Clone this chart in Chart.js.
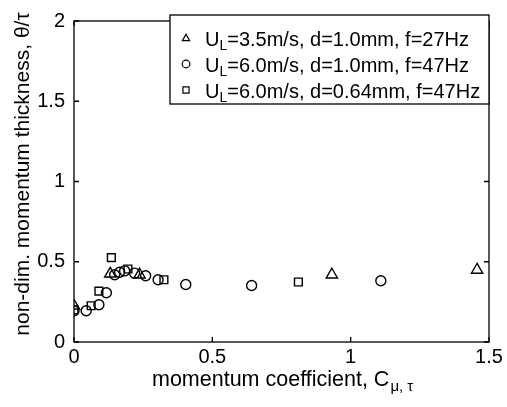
<!DOCTYPE html>
<html>
<head>
<meta charset="utf-8">
<script src="https://cdn.jsdelivr.net/npm/chart.js@4/dist/chart.umd.min.js"></script>
<style>
  html, body { margin: 0; padding: 0; background: #fff; }
  #wrap { width: 507px; height: 407px; }
</style>
</head>
<body>
<div id="wrap"><canvas id="chart" width="507" height="407"></canvas></div>
<script>
// values
const xTicks = [0, 0.5, 1, 1.5];
const yTicks = [0, 0.5, 1, 1.5, 2];

// U_L=3.5m/s, d=1.0mm, f=27Hz (triangles)
const triX = [0, 0.131, 0.237, 0.932, 1.457];
const triY = [0.226, 0.425, 0.419, 0.419, 0.449];

// U_L=6.0m/s, d=1.0mm, f=47Hz (circles)
const cirX = [0, 0.044, 0.09, 0.117, 0.147, 0.165, 0.183, 0.219, 0.259, 0.304, 0.404, 0.642, 1.109];
const cirY = [0.195, 0.195, 0.232, 0.307, 0.419, 0.435, 0.443, 0.429, 0.413, 0.388, 0.358, 0.352, 0.382];

// U_L=6.0m/s, d=0.64mm, f=47Hz (squares)
const sqX = [0, 0.062, 0.09, 0.135, 0.195, 0.325, 0.811];
const sqY = [0.2, 0.226, 0.317, 0.526, 0.455, 0.388, 0.374];

const legendRows = [
    { style: 'triangle', pre: 'U', sub: 'L', post: '=3.5m/s, d=1.0mm, f=27Hz' },
    { style: 'circle', pre: 'U', sub: 'L', post: '=6.0m/s, d=1.0mm, f=47Hz' },
    { style: 'rect', pre: 'U', sub: 'L', post: '=6.0m/s, d=0.64mm, f=47Hz' }
];

const FONT = '"Liberation Sans", Arial, Helvetica, sans-serif';

function toPoints(xs, ys) {
    return xs.map((x, i) => ({ x: x, y: ys[i] }));
}

function marker(ctx, style, x, y, r) {
    ctx.beginPath();
    if (style === 'circle') {
        ctx.arc(x, y, r, 0, Math.PI * 2);
    } else if (style === 'rect') {
        ctx.rect(x - r * 0.8, y - r * 0.8, r * 1.6, r * 1.6);
    } else {
        ctx.moveTo(x, y - r);
        ctx.lineTo(x + r * 0.95, y + r * 0.7);
        ctx.lineTo(x - r * 0.95, y + r * 0.7);
        ctx.closePath();
    }
    ctx.stroke();
}

// frame, inward ticks, axis titles and legend in the MATLAB style
const decorPlugin = {
    id: 'decor',
    afterDraw(chart) {
        const ctx = chart.ctx;
        const a = chart.chartArea;
        const xs = chart.scales.x, ys = chart.scales.y;
        ctx.save();
        ctx.strokeStyle = '#000';
        ctx.lineWidth = 1.3;
        ctx.strokeRect(a.left, a.top, a.right - a.left, a.bottom - a.top);
        ctx.beginPath();
        xTicks.forEach(v => {
            const px = xs.getPixelForValue(v);
            ctx.moveTo(px, a.bottom); ctx.lineTo(px, a.bottom - 5);
            ctx.moveTo(px, a.top); ctx.lineTo(px, a.top + 5);
        });
        yTicks.forEach(v => {
            const py = ys.getPixelForValue(v);
            ctx.moveTo(a.left, py); ctx.lineTo(a.left + 5, py);
            ctx.moveTo(a.right, py); ctx.lineTo(a.right - 5, py);
        });
        ctx.stroke();

        ctx.fillStyle = '#000';
        ctx.textBaseline = 'alphabetic';

        // x title with subscript
        const big = '20px ' + FONT, small = '14px ' + FONT;
        ctx.font = '21.5px ' + FONT;
        const t1 = 'momentum coefficient, C';
        ctx.textAlign = 'left';
        ctx.fillText(t1, 152, 386);
        const w1 = ctx.measureText(t1).width;
        ctx.font = '15px ' + FONT;
        ctx.fillText('μ, τ', 152 + w1 + 1, 391);

        // y title
        ctx.save();
        ctx.translate(29, 174);
        ctx.rotate(-Math.PI / 2);
        ctx.font = '21px ' + FONT;
        ctx.textAlign = 'center';
        ctx.fillText('non-dim. momentum thickness, θ/τ', 0, 0);
        ctx.restore();

        // legend box
        ctx.fillStyle = '#fff';
        ctx.fillRect(170, 15, 319, 89);
        ctx.strokeRect(170, 15, 319, 89);
        ctx.fillStyle = '#000';
        legendRows.forEach((row, i) => {
            const cy = 39 + i * 26;
            ctx.lineWidth = 1.2;
            marker(ctx, row.style, 186, cy - 1, 3.8);
            let tx = 205;
            ctx.font = big;
            ctx.fillText(row.pre, tx, cy + 7);
            tx += ctx.measureText(row.pre).width;
            ctx.font = small;
            ctx.fillText(row.sub, tx, cy + 11);
            tx += ctx.measureText(row.sub).width;
            ctx.font = big;
            ctx.fillText(row.post, tx, cy + 7);
        });
        ctx.restore();
    }
};

const pointOpts = {
    showLine: false,
    borderColor: '#000',
    backgroundColor: 'rgba(0,0,0,0)',
    pointBorderWidth: 1.4,
    pointRadius: 5
};

const chart = new Chart(document.getElementById('chart').getContext('2d'), {
    type: 'scatter',
    data: {
        datasets: [
            Object.assign({ label: 'tri', data: toPoints(triX, triY), pointStyle: 'triangle' }, pointOpts, { pointRadius: 6.5 }),
            Object.assign({ label: 'cir', data: toPoints(cirX, cirY), pointStyle: 'circle' }, pointOpts),
            Object.assign({ label: 'sq', data: toPoints(sqX, sqY), pointStyle: 'rect' }, pointOpts, { pointRadius: 5.5 })
        ]
    },
    options: {
        responsive: false,
        animation: false,
        layout: { padding: { left: 0, top: 14, right: 18, bottom: 0 } },
        plugins: {
            legend: { display: false },
            tooltip: { enabled: false }
        },
        scales: {
            x: {
                type: 'linear',
                min: 0,
                max: 1.5,
                afterFit: s => { s.height = 65; },
                afterBuildTicks: s => { s.ticks = xTicks.map(v => ({ value: v })); },
                grid: { display: false, drawTicks: false },
                border: { display: false },
                ticks: { color: '#000', padding: 3, font: { family: FONT, size: 20 }, callback: v => String(v) }
            },
            y: {
                type: 'linear',
                min: 0,
                max: 2,
                afterFit: s => { s.width = 74; },
                afterBuildTicks: s => { s.ticks = yTicks.map(v => ({ value: v })); },
                grid: { display: false, drawTicks: false },
                border: { display: false },
                ticks: { color: '#000', padding: 9, font: { family: FONT, size: 20 }, callback: v => String(v) }
            }
        }
    },
    plugins: [decorPlugin]
});
</script>
</body>
</html>
